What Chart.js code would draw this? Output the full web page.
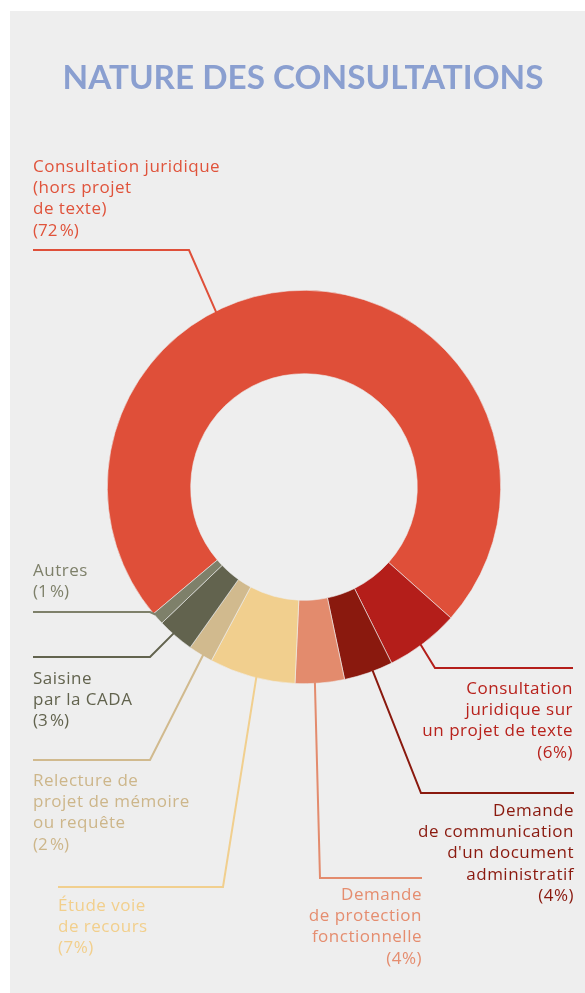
<!DOCTYPE html>
<html lang="fr">
<head>
<meta charset="utf-8">
<title>Nature des consultations</title>
<script src="https://cdn.jsdelivr.net/npm/chart.js@4.4.0/dist/chart.umd.min.js"></script>
<style>
  html, body { margin: 0; padding: 0; background: #fff; }
  #wrap { width: 585px; height: 993px; }
</style>
</head>
<body>
<div id="wrap"><canvas id="chart" width="585" height="993"></canvas></div>
<script>
// Données
const categories = [
    'Consultation juridique (hors projet de texte)',
    'Consultation juridique sur un projet de texte',
    'Demande de communication d\'un document administratif',
    'Demande de protection fonctionnelle',
    'Étude voie de recours',
    'Relecture de projet de mémoire ou requête',
    'Saisine par la CADA',
    'Autres'
];
const values = [72, 6, 4, 4, 7, 2, 3, 1];
const sliceColors = ['#df4f39', '#b41e1a', '#8a190e', '#e38b6d', '#f1cf8e', '#d1ba8e', '#62634e', '#7e806a'];
const textColors = ['#e0533b', '#b8221c', '#8a190e', '#e58d6f', '#f2cf8c', '#cdb68a', '#62634e', '#7e806a'];

// Texte des étiquettes (une entrée par ligne)
const labelLines = [
    ['Consultation juridique', '(hors projet', 'de texte)', '(72\u202f%)'],
    ['Consultation', 'juridique sur', 'un projet de texte', '(6%)'],
    ['Demande', 'de communication', 'd\'un document', 'administratif', '(4%)'],
    ['Demande', 'de protection', 'fonctionnelle', '(4%)'],
    ['Étude voie', 'de recours', '(7%)'],
    ['Relecture de', 'projet de mémoire', 'ou requête', '(2\u202f%)'],
    ['Saisine', 'par la CADA', '(3\u202f%)'],
    ['Autres', '(1\u202f%)']
];

// Mise en page des étiquettes et des traits de rappel
const labelLayout = [
    { x: 33,  y: 172, align: 'left',  path: [[33, 250], [189, 250]], frac: 0.395 },
    { x: 573, y: 694, align: 'right', path: [[573, 668], [435, 668]], frac: 0.54 },
    { x: 574, y: 816, align: 'right', path: [[574, 793], [421, 793]], frac: 0.41 },
    { x: 422, y: 900, align: 'right', path: [[422, 878], [320, 878]], frac: 0.6 },
    { x: 58,  y: 911, align: 'left',  path: [[58, 887], [223, 887]], frac: 0.45 },
    { x: 33,  y: 786, align: 'left',  path: [[33, 760], [150, 760]], frac: 0.4 },
    { x: 33,  y: 684, align: 'left',  path: [[33, 657], [150, 657]], frac: 0.58 },
    { x: 33,  y: 576, align: 'left',  path: [[33, 612], [150, 612]], frac: 0.85 }
];
const lineHeight = 21.2;
const labelFont = '500 17px "Open Sans"';

const fond = {
    id: 'fond',
    beforeDraw(chart) {
        const ctx = chart.ctx;
        ctx.save();
        ctx.fillStyle = '#ffffff';
        ctx.fillRect(0, 0, chart.width, chart.height);
        ctx.fillStyle = '#eeeeee';
        ctx.fillRect(10, 11, chart.width - 10, chart.height - 11);
        ctx.fillStyle = '#8a9fd0';
        ctx.font = 'bold 33.3px Lato';
        ctx.textAlign = 'center';
        ctx.textBaseline = 'alphabetic';
        ctx.fillText('NATURE DES CONSULTATIONS', 303, 89);
        ctx.restore();
    }
};

const etiquettes = {
    id: 'etiquettes',
    afterDatasetsDraw(chart) {
        const ctx = chart.ctx;
        const meta = chart.getDatasetMeta(0);
        ctx.save();
        meta.data.forEach((arc, i) => {
            const lay = labelLayout[i];
            const a = arc.startAngle + lay.frac * (arc.endAngle - arc.startAngle);
            const px = arc.x + Math.cos(a) * (arc.outerRadius - 1);
            const py = arc.y + Math.sin(a) * (arc.outerRadius - 1);
            ctx.strokeStyle = sliceColors[i];
            ctx.lineWidth = 2;
            ctx.beginPath();
            ctx.moveTo(lay.path[0][0], lay.path[0][1]);
            for (let k = 1; k < lay.path.length; k++) ctx.lineTo(lay.path[k][0], lay.path[k][1]);
            ctx.lineTo(px, py);
            ctx.stroke();

            ctx.fillStyle = textColors[i];
            ctx.font = labelFont;
            ctx.letterSpacing = '0.5px';
            ctx.textAlign = lay.align;
            ctx.textBaseline = 'alphabetic';
            labelLines[i].forEach((t, j) => ctx.fillText(t, lay.x, lay.y + j * lineHeight));
        });
        ctx.restore();
    }
};

new Chart(document.getElementById('chart'), {
    type: 'doughnut',
    data: {
        labels: categories,
        datasets: [{
            data: values,
            backgroundColor: sliceColors,
            borderColor: '#eeeeee',
            borderWidth: 0.6
        }]
    },
    options: {
        responsive: false,
        animation: false,
        devicePixelRatio: 1,
        rotation: 229.9,
        cutout: '57.6%',
        layout: {
            padding: { left: 107, right: 84, top: 290, bottom: 309 }
        },
        plugins: {
            legend: { display: false },
            tooltip: { enabled: false }
        }
    },
    plugins: [fond, etiquettes]
});
</script>
</body>
</html>
